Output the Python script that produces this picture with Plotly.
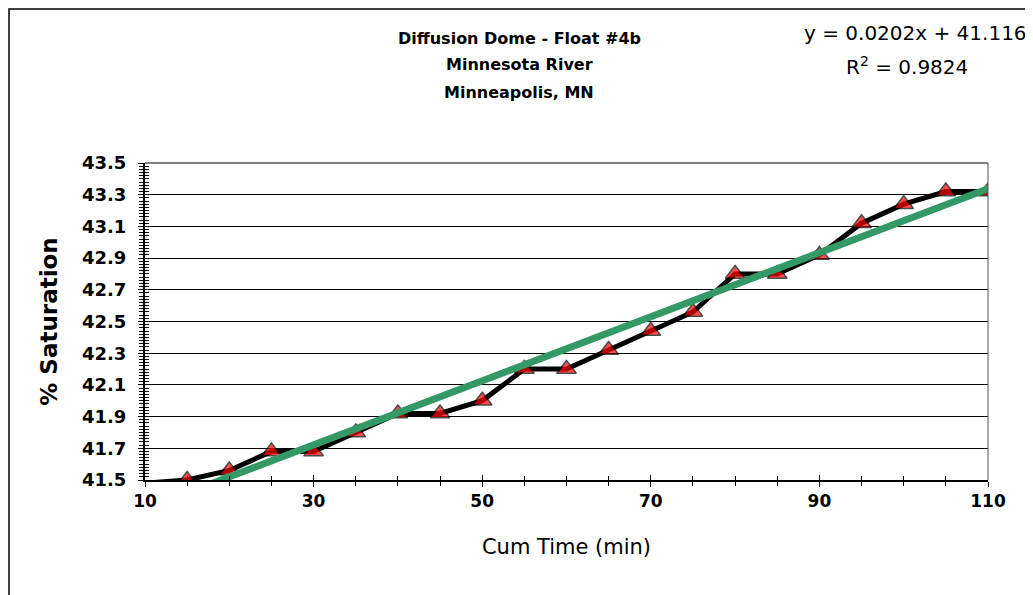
import plotly.graph_objects as go

# data
cum_time = [10, 15, 20, 25, 30, 35, 40, 45, 50, 55, 60, 65, 70, 75, 80, 85, 90, 95, 100, 105, 110]
saturation = [41.48, 41.50, 41.56, 41.68, 41.68, 41.80, 41.92, 41.92, 42.00, 42.20, 42.20,
              42.32, 42.44, 42.56, 42.80, 42.80, 42.92, 43.12, 43.24, 43.32, 43.32]
fit_slope = 0.0202
fit_intercept = 41.116
fit_r2 = 0.9824

title_lines = ["Diffusion Dome - Float #4b", "Minnesota River", "Minneapolis, MN"]

FONT = "DejaVu Sans, sans-serif"

# linear trendline over the data range
fit_x = [cum_time[0], cum_time[-1]]
fit_y = [fit_slope * x + fit_intercept for x in fit_x]

# page body has an 8px margin, so lay out in reference pixels minus 8
OFF = 8
W, H = 1033 - OFF, 595 - OFF
ml = 145 - OFF
mt = 163 - OFF
mr = W - (988 - OFF)
mb = H - (480 - OFF)
pw, ph = W - ml - mr, H - mt - mb


def px(x):
    return (x - OFF - ml) / pw


def py(y):
    return (H - mb - (y - OFF)) / ph


fig = go.Figure()

fig.add_trace(go.Scatter(
    x=cum_time, y=saturation,
    mode="lines+markers",
    line=dict(color="black", width=5),
    marker=dict(symbol="triangle-up", size=[0] + [17] * (len(cum_time) - 1),
                color="#ff0000", line=dict(color="black", width=1.5)),
    showlegend=False,
))

fig.add_trace(go.Scatter(
    x=fit_x, y=fit_y,
    mode="lines",
    line=dict(color="#339966", width=7),
    showlegend=False,
))

fig.update_xaxes(
    range=[10, 110], dtick=20, tick0=10,
    showgrid=False, zeroline=False,
    showline=True, linecolor="black", linewidth=2,
    ticks="outside", ticklen=5, tickwidth=1, tickcolor="black",
    minor=dict(dtick=5, tick0=10, ticks="outside", ticklen=4, tickwidth=1, tickcolor="black"),
    tickfont=dict(family=FONT, size=17, color="black", weight="bold"),
    title=dict(text="Cum Time (min)", font=dict(family=FONT, size=21, color="black"), standoff=29),
)

fig.update_yaxes(
    range=[41.5, 43.5], dtick=0.2, tick0=41.5,
    tickformat=".1f",
    showgrid=True, gridcolor="black", gridwidth=1,
    zeroline=False,
    showline=True, linecolor="black", linewidth=2,
    ticks="outside", ticklen=5, tickwidth=1, tickcolor="black",
    minor=dict(dtick=0.02, tick0=41.5, ticks="outside", ticklen=4, tickwidth=1, tickcolor="black"),
    tickfont=dict(family=FONT, size=18, color="black", weight="bold"),
    ticklabelstandoff=8,
    title=dict(text="% Saturation", font=dict(family=FONT, size=23, color="black", weight="bold"), standoff=18),
)

# overlay axes so ticks cross the axis lines
fig.update_layout(
    xaxis2=dict(overlaying="x", range=[10, 110], dtick=20, tick0=10, showticklabels=False,
                showgrid=False, zeroline=False, ticks="inside", ticklen=5, tickcolor="black",
                minor=dict(dtick=5, tick0=10, ticks="inside", ticklen=4, tickcolor="black")),
    yaxis2=dict(overlaying="y", range=[41.5, 43.5], dtick=0.2, tick0=41.5, showticklabels=False,
                showgrid=False, zeroline=False, ticks="inside", ticklen=5, tickcolor="black",
                minor=dict(dtick=0.02, tick0=41.5, ticks="inside", ticklen=4, tickcolor="black")),
)
fig.add_trace(go.Scatter(x=[None], y=[None], xaxis="x2", yaxis="y2", showlegend=False, hoverinfo="skip"))

# plot area top/right border
fig.add_shape(type="line", xref="paper", yref="paper", x0=0, x1=1, y0=1, y1=1,
              line=dict(color="black", width=1))
fig.add_shape(type="line", xref="paper", yref="paper", x0=1, x1=1, y0=0, y1=1,
              line=dict(color="#555555", width=1))

# outer chart border (left, top, right); kept just inside the figure edge
edge = OFF + 1
fig.add_shape(type="path", xref="paper", yref="paper",
              path=f"M {px(edge)} {py(610)} L {px(edge)} {py(edge)} L {px(1031)} {py(edge)} L {px(1031)} {py(610)}",
              line=dict(color="black", width=1.5))

title_y = [38, 65, 92]
for text, y in zip(title_lines, title_y):
    fig.add_annotation(
        text=f"<b>{text}</b>",
        xref="paper", yref="paper", x=px(519), y=py(y), xanchor="center", yanchor="middle",
        showarrow=False, font=dict(family=FONT, size=16, color="black"),
    )

fig.add_annotation(
    text=f"y = {fit_slope}x + {fit_intercept}",
    xref="paper", yref="paper", x=px(915), y=py(33), xanchor="center", yanchor="middle",
    showarrow=False, font=dict(family=FONT, size=20, color="black"),
)
fig.add_annotation(
    text=f"R<sup>2</sup> = {fit_r2}",
    xref="paper", yref="paper", x=px(907), y=py(66), xanchor="center", yanchor="middle",
    showarrow=False, font=dict(family=FONT, size=20, color="black"),
)

fig.update_layout(
    width=W, height=H,
    margin=dict(l=ml, r=mr, t=mt, b=mb),
    paper_bgcolor="white", plot_bgcolor="white",
    showlegend=False,
)

fig.write_html("out.html")
